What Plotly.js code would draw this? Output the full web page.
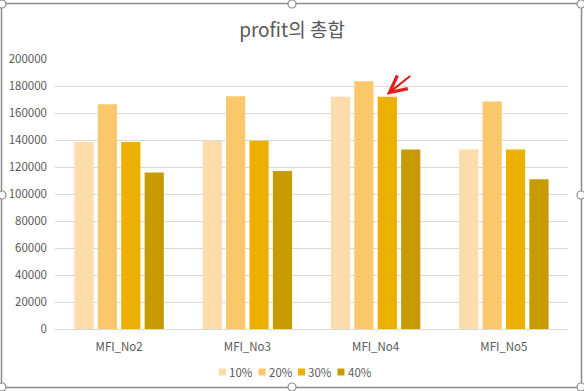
<!DOCTYPE html>
<html>
<head>
<meta charset="utf-8">
<script src="https://cdn.plot.ly/plotly-3.0.1.min.js"></script>
<style>
html,body{margin:0;padding:0;background:#fff;}
#chart{width:584px;height:391px;}
</style>
</head>
<body>
<div id="chart"></div>
<script>
const categories = ["MFI_No2", "MFI_No3", "MFI_No4", "MFI_No5"];
const seriesNames = ["10%", "20%", "30%", "40%"];
const s10 = [138500, 139500, 172000, 133000];
const s20 = [166500, 172500, 183500, 168500];
const s30 = [138500, 139500, 172000, 133000];
const s40 = [116000, 117000, 133000, 111000];
const yTicks = [0, 20000, 40000, 60000, 80000, 100000, 120000, 140000, 160000, 180000, 200000];
const colors = ["#FCDCAA", "#FBC76B", "#EDB000", "#C79A00"];
const values = [s10, s20, s30, s40];

const W = 584, H = 391;
const M = {l: 55, r: 16, t: 59, b: 62};
const pw = W - M.l - M.r, ph = H - M.t - M.b;
const px = x => (x - M.l) / pw;
const py = y => (H - M.b - y) / ph;

const traces = seriesNames.map((n, i) => ({
  type: "bar", name: n, x: categories, y: values[i],
  marker: {color: colors[i]}, hoverinfo: "x+y+name"
}));

const shapes = [];
const annotations = [];
// outer selection border
shapes.push({type: "rect", xref: "paper", yref: "paper",
  x0: px(1.5), x1: px(581.5), y0: py(387.5), y1: py(3.5),
  line: {color: "#8C8C8C", width: 1.5}, fillcolor: "rgba(0,0,0,0)"});
const handles = [[2,4],[292,4],[581,4],[2,195],[581,195],[2,387],[292,387],[581,387]];
handles.forEach(([hx, hy]) => {
  shapes.push({type: "circle", xref: "paper", yref: "paper",
    x0: px(hx - 4), x1: px(hx + 4), y0: py(hy + 4), y1: py(hy - 4),
    line: {color: "#8C8C8C", width: 1.2}, fillcolor: "#ffffff"});
});

// compact legend (Excel style: small squares, tight text)
const legY = 372, legStart = 219, legStep = 39.5;
seriesNames.forEach((n, i) => {
  const sx = legStart + i * legStep;
  shapes.push({type: "rect", xref: "paper", yref: "paper",
    x0: px(sx), x1: px(sx + 7), y0: py(legY + 3.5), y1: py(legY - 3.5),
    line: {width: 0}, fillcolor: colors[i]});
  annotations.push({xref: "paper", yref: "paper", x: px(sx + 8), y: py(legY),
    xanchor: "left", yanchor: "middle", showarrow: false, text: n,
    font: {size: 11.5, color: "#595959"}});
});

// red arrow pointing at MFI_No4 30%
annotations.push({
  xref: "x", yref: "y", x: "MFI_No4", xshift: 11, y: s30[2], yshift: 2,
  ax: 25, ay: -20, showarrow: true, arrowcolor: "#E0201B", arrowwidth: 2.2,
  arrowhead: 5, arrowsize: 1.5, text: ""
});

const layout = {
  width: W, height: H,
  margin: M,
  paper_bgcolor: "#ffffff", plot_bgcolor: "#ffffff",
  font: {family: "'Noto Sans CJK KR', 'Noto Sans', sans-serif", color: "#595959", size: 11},
  title: {text: "profit의 총합", x: 0.5, xref: "container", xanchor: "center", y: 1 - 30 / H, yanchor: "middle",
    font: {size: 19, color: "#595959", family: "'Noto Sans CJK KR', sans-serif"}},
  barmode: "group", bargap: 0.27, bargroupgap: 0.18,
  xaxis: {type: "category", showgrid: false, showline: true, linecolor: "#D9D9D9", linewidth: 1,
    ticks: "", tickfont: {size: 11.5, color: "#595959"}, fixedrange: true, ticklabelstandoff: 7},
  yaxis: {range: [0, 200000], tickvals: yTicks, ticktext: yTicks.map(String), showgrid: true,
    gridcolor: "#D9D9D9", gridwidth: 1, zeroline: false, showline: false, ticks: "",
    tickfont: {size: 11.5, color: "#595959"}, fixedrange: true, ticklabelstandoff: 7},
  showlegend: false,
  shapes: shapes,
  annotations: annotations
};

Plotly.newPlot("chart", traces, layout, {displayModeBar: false, staticPlot: true});
</script>
</body>
</html>
